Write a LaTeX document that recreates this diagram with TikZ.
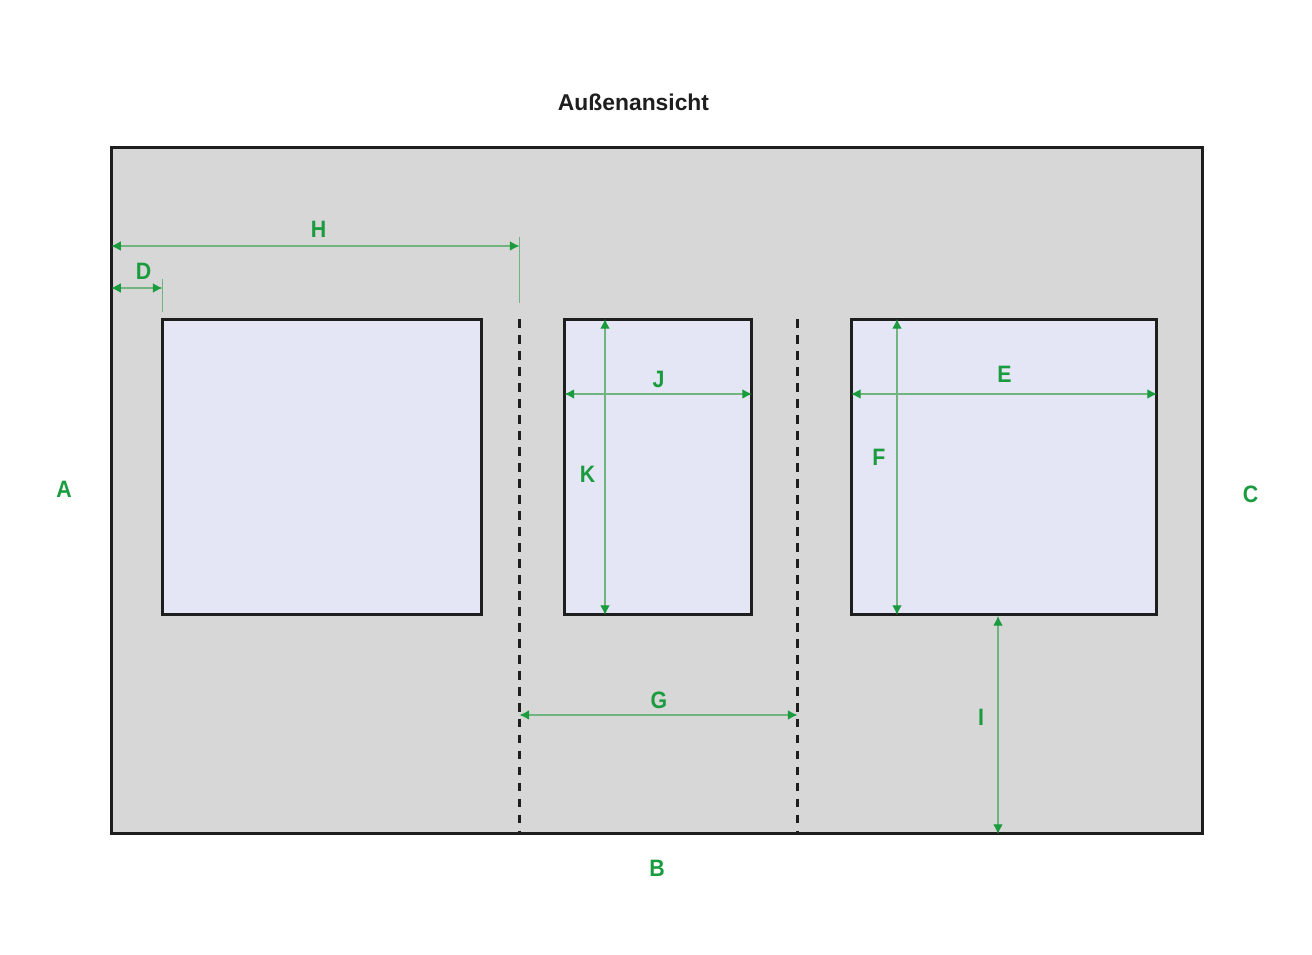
\documentclass[tikz,border=0pt]{standalone}
\usepackage{fontspec}
\setmainfont{Liberation Sans}
\newfontfamily\dimfont[FakeStretch=0.9]{Liberation Sans}
\usetikzlibrary{arrows.meta}
\definecolor{dimgreen}{HTML}{1A9C3E}
\definecolor{dimline}{HTML}{72B47E}
\definecolor{wallgrey}{HTML}{D7D7D7}
\definecolor{glassblue}{HTML}{E4E6F5}
\definecolor{edgeblack}{HTML}{1E1E1E}
\tikzset{
    panel/.style={draw=edgeblack,line width=1.7pt,outer sep=0pt,inner sep=0pt},
    dimarrow/.style={draw=dimline,line width=0.7pt,{Latex[length=5.5pt,width=5.5pt,color=dimgreen]}-{Latex[length=5.5pt,width=5.5pt,color=dimgreen]}},
    dimtick/.style={draw=dimline,line width=0.7pt},
    axisline/.style={draw=edgeblack,line width=1.6pt,dash pattern=on 5pt off 4.1pt},
    dimlabel/.style={text=dimgreen,font=\dimfont\fontsize{13.5}{16}\selectfont\bfseries,inner sep=0pt}
}

\begin{document}
\begin{tikzpicture}[x=0.02cm,y=-0.02cm]
    \useasboundingbox (0,0) rectangle (1312,955);
    \node[font=\fontsize{13}{16}\selectfont\bfseries,text=edgeblack,inner sep=0pt] (title) at (633.5,102.5) {Außenansicht};
    \node[panel,fill=wallgrey,minimum width=21.84cm,minimum height=13.74cm] (wall) at (657,490.5) {};
    \node[panel,fill=glassblue,minimum width=6.4cm,minimum height=5.92cm] (winA) at (322,467) {};
    \node[panel,fill=glassblue,minimum width=3.75cm,minimum height=5.92cm] (winB) at (658.25,467) {};
    \node[panel,fill=glassblue,minimum width=6.12cm,minimum height=5.92cm] (winC) at (1004,467) {};
    % axes between the windows
    \coordinate (axisLtop) at (519.5,319);
    \coordinate (axisRtop) at (797.5,319);
    \coordinate (axisLbot) at (axisLtop |- wall.south);
    \coordinate (axisRbot) at (axisRtop |- wall.south);
    \draw[axisline] (axisLtop) -- (axisLbot);
    \draw[axisline] (axisRtop) -- (axisRbot);
    % extension lines
    \coordinate (tickHa) at (519.5,237);
    \coordinate (tickHb) at (519.5,303);
    \coordinate (tickDa) at (162.5,279);
    \coordinate (tickDb) at (162.5,312);
    \draw[dimtick] (tickHa) -- (tickHb);
    \draw[dimtick] (tickDa) -- (tickDb);
    % dimensions
    \coordinate (hL) at (wall.west |- 0,246);
    \coordinate (hR) at (519.5,246);
    \coordinate (dL) at (wall.west |- 0,288);
    \coordinate (dR) at (162.5,288);
    \coordinate (jL) at (winB.west |- 0,394);
    \coordinate (jR) at (winB.east |- 0,394);
    \coordinate (eL) at (winC.west |- 0,394);
    \coordinate (eR) at (winC.east |- 0,394);
    \coordinate (kT) at (605,319);
    \coordinate (kB) at (605,615);
    \coordinate (fT) at (897,319);
    \coordinate (fB) at (897,615);
    \coordinate (gL) at (519.5,715);
    \coordinate (gR) at (797.5,715);
    \coordinate (iT) at (998,616);
    \coordinate (iB) at (998,834);
    \foreach \a/\b in {hL/hR,dL/dR,jL/jR,eL/eR,kT/kB,fT/fB,gL/gR,iT/iB} {
        \draw[dimarrow] (\a) -- (\b);
    }
    % labels
    \foreach \name/\x/\y in {A/64/489,B/657/868,C/1250.5/494,D/143.5/271,E/1004.5/374,F/879/457,G/659/700,H/318.5/229,I/981/717,J/658.5/379,K/587.5/474} {
        \node[dimlabel] (lbl\name) at (\x,\y) {\name};
    }
\end{tikzpicture}
\end{document}
